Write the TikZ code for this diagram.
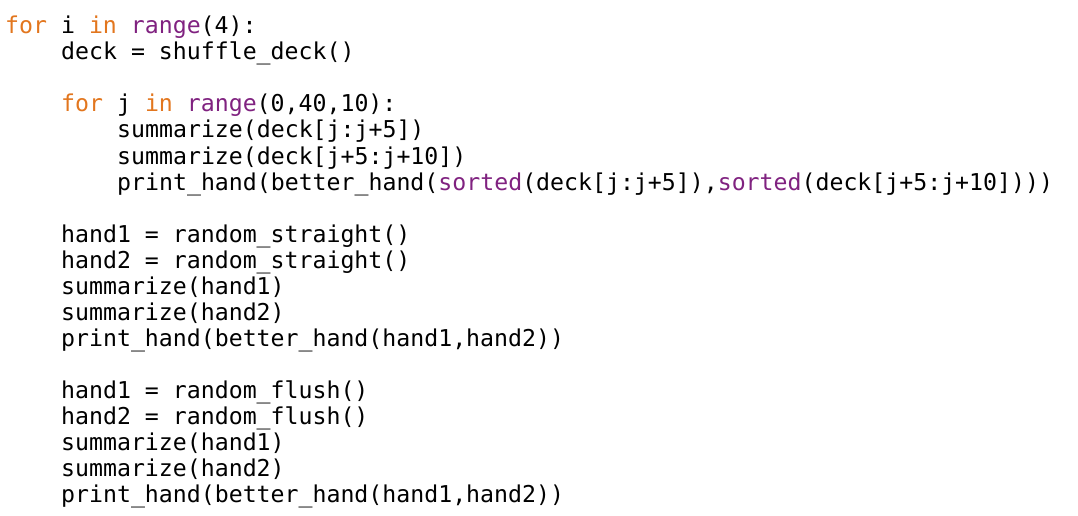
\documentclass[tikz,border=0pt]{standalone}
\usepackage{fontspec}
\setmonofont{DejaVu Sans Mono}
\usetikzlibrary{positioning}
\definecolor{kwOrange}{RGB}{226,118,30}
\definecolor{biPurple}{RGB}{128,34,128}
\newcommand{\kw}[1]{\textcolor{kwOrange}{#1}}
\newcommand{\bi}[1]{\textcolor{biPurple}{#1}}
\tikzset{
  codeline/.style = {
    anchor=base west,
    inner sep=0pt,
    font=\ttfamily\fontsize{23.2}{26}\selectfont,
  },
}

\begin{document}
\begin{tikzpicture}[x=1pt, y=-1pt]
\useasboundingbox (0,0) rectangle (1078,516);

\node[codeline] (l1) at (5,34) {\kw{for} i \kw{in} \bi{range}(4):};
\node[codeline] (l2) at (61,60) {deck = shuffle\_deck()};

\node[codeline] (l4) at (61,112) {\kw{for} j \kw{in} \bi{range}(0,40,10):};
\node[codeline] (l5) at (117,138) {summarize(deck[j:j+5])};
\node[codeline] (l6) at (117,164) {summarize(deck[j+5:j+10])};
\node[codeline] (l7) at (117,190) {print\_hand(better\_hand(\bi{sorted}(deck[j:j+5]),\bi{sorted}(deck[j+5:j+10])))};

\node[codeline] (l9) at (61,242) {hand1 = random\_straight()};
\node[codeline] (l10) at (61,268) {hand2 = random\_straight()};
\node[codeline] (l11) at (61,294) {summarize(hand1)};
\node[codeline] (l12) at (61,320) {summarize(hand2)};
\node[codeline] (l13) at (61,346) {print\_hand(better\_hand(hand1,hand2))};

\node[codeline] (l15) at (61,398) {hand1 = random\_flush()};
\node[codeline] (l16) at (61,424) {hand2 = random\_flush()};
\node[codeline] (l17) at (61,450) {summarize(hand1)};
\node[codeline] (l18) at (61,476) {summarize(hand2)};
\node[codeline] (l19) at (61,502) {print\_hand(better\_hand(hand1,hand2))};

\end{tikzpicture}
\end{document}
